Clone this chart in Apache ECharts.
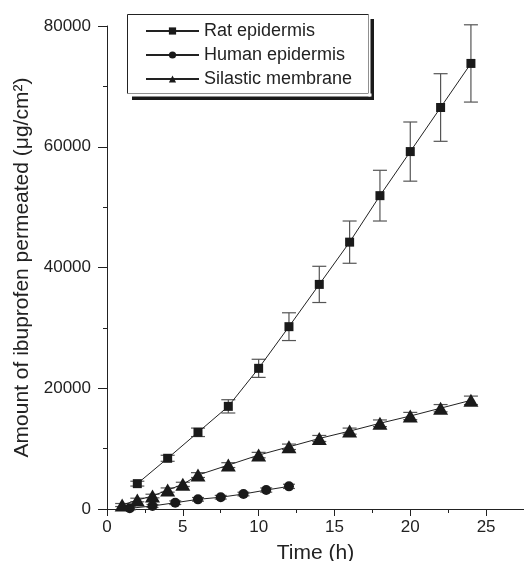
<!DOCTYPE html>
<html>
<head>
<meta charset="utf-8">
<script src="https://cdn.jsdelivr.net/npm/echarts@6/dist/echarts.min.js"></script>
<style>
html,body{margin:0;padding:0;background:#fff;}
#chart{width:524px;height:561px;}
</style>
</head>
<body>
<div id="chart"></div>
<script>
var ratX = [2, 4, 6, 8, 10, 12, 14, 16, 18, 20, 22, 24];
var ratY = [4200, 8400, 12700, 17000, 23300, 30200, 37200, 44200, 51900, 59200, 66500, 73800];
var ratErr = [400, 500, 700, 1100, 1500, 2300, 3000, 3500, 4200, 4900, 5600, 6400];

var humanX = [1.5, 3, 4.5, 6, 7.5, 9, 10.5, 12];
var humanY = [110, 500, 1040, 1600, 1950, 2480, 3140, 3750];
var humanErr = [250, 250, 300, 300, 300, 300, 350, 350];

var silX = [1, 2, 3, 4, 5, 6, 8, 10, 12, 14, 16, 18, 20, 22, 24];
var silY = [660, 1490, 2150, 3140, 4080, 5620, 7270, 8930, 10300, 11680, 12900, 14200, 15400, 16700, 18000];
var silErr = [250, 300, 300, 350, 350, 400, 400, 450, 450, 500, 500, 550, 600, 600, 700];

var xTicks = [0, 5, 10, 15, 20, 25];
var yTicks = [0, 20000, 40000, 60000, 80000];

function pairs(xs, ys) {
	var out = [];
	for (var i = 0; i < xs.length; i++) out.push([xs[i], ys[i]]);
	return out;
}
function errData(xs, ys, es) {
	var out = [];
	for (var i = 0; i < xs.length; i++) out.push([xs[i], ys[i] - es[i], ys[i] + es[i]]);
	return out;
}
function errSeries(data, cap) {
	return {
		type: 'custom',
		silent: true,
		z: 1,
		data: data,
		encode: {x: 0, y: [1, 2]},
		renderItem: function (params, api) {
			var lo = api.coord([api.value(0), api.value(1)]);
			var hi = api.coord([api.value(0), api.value(2)]);
			var st = {stroke: '#555', lineWidth: 1.2};
			return {
				type: 'group',
				children: [
					{type: 'line', shape: {x1: lo[0], y1: lo[1], x2: hi[0], y2: hi[1]}, style: st},
					{type: 'line', shape: {x1: lo[0] - cap, y1: lo[1], x2: lo[0] + cap, y2: lo[1]}, style: st},
					{type: 'line', shape: {x1: hi[0] - cap, y1: hi[1], x2: hi[0] + cap, y2: hi[1]}, style: st}
				]
			};
		}
	};
}
function lineSeries(name, data, symbol, size) {
	return {
		name: name,
		type: 'line',
		data: data,
		symbol: symbol,
		symbolSize: size,
		showAllSymbol: true,
		z: 3,
		lineStyle: {color: '#222', width: 1},
		itemStyle: {color: '#1a1a1a'}
	};
}

var chart = echarts.init(document.getElementById('chart'));
var font = 'Liberation Sans, Arial, sans-serif';
var option = {
	animation: false,
	backgroundColor: '#fff',
	grid: {left: 107, right: 0, top: 26, bottom: 52, outerBoundsMode: 'none', containLabel: false},
	graphic: [
		{type: 'rect', z: 90, shape: {x: 132, y: 19, width: 242, height: 81}, style: {fill: '#1a1a1a'}},
		{type: 'rect', z: 91, shape: {x: 127.5, y: 14.5, width: 241, height: 79}, style: {fill: '#fff', stroke: '#222', lineWidth: 1}},
		{type: 'rect', z: 91, shape: {x: 368.5, y: 14.5, width: 2, height: 82}, style: {fill: '#fff'}},
		{type: 'rect', z: 91, shape: {x: 127.5, y: 93.5, width: 244, height: 3}, style: {fill: '#fff'}}
	],
	legend: {
		orient: 'vertical',
		left: 145,
		top: 21,
		z: 100,
		itemWidth: 53,
		itemHeight: 9,
		itemGap: 4,
		padding: 0,
		textStyle: {fontFamily: font, fontSize: 18, lineHeight: 20, color: '#222'},
		data: ['Rat epidermis', 'Human epidermis', 'Silastic membrane']
	},
	xAxis: {
		type: 'value',
		min: 0,
		max: 27.5,
		interval: 5,
		name: 'Time (h)',
		nameLocation: 'middle',
		nameGap: 34,
		nameTextStyle: {fontFamily: font, fontSize: 21, color: '#222'},
		axisLine: {lineStyle: {color: '#222', width: 1}},
		axisTick: {show: true, inside: false, length: 7, lineStyle: {color: '#222'}},
		minorTick: {show: true, splitNumber: 2, length: 4, lineStyle: {color: '#222'}},
		splitLine: {show: false},
		axisLabel: {
			fontFamily: font, fontSize: 17, color: '#222', margin: 10,
			formatter: function (v) { return xTicks.indexOf(v) >= 0 ? String(v) : ''; }
		}
	},
	yAxis: {
		type: 'value',
		min: 0,
		max: 80000,
		interval: 20000,
		name: 'Amount of ibuprofen permeated (\u03bcg/cm\u00b2)',
		nameLocation: 'middle',
		nameGap: 74,
		nameTextStyle: {fontFamily: font, fontSize: 21, color: '#222'},
		axisLine: {show: true, lineStyle: {color: '#222', width: 1}},
		axisTick: {show: true, inside: false, length: 9, lineStyle: {color: '#222'}},
		minorTick: {show: true, splitNumber: 2, length: 4, lineStyle: {color: '#222'}},
		splitLine: {show: false},
		axisLabel: {
			fontFamily: font, fontSize: 17, color: '#222', margin: 16,
			formatter: function (v) { return yTicks.indexOf(v) >= 0 ? String(v) : ''; }
		}
	},
	series: [
		errSeries(errData(ratX, ratY, ratErr), 7),
		errSeries(errData(humanX, humanY, humanErr), 6),
		errSeries(errData(silX, silY, silErr), 7),
		lineSeries('Rat epidermis', pairs(ratX, ratY), 'rect', 9),
		lineSeries('Human epidermis', pairs(humanX, humanY), 'circle', 10),
		lineSeries('Silastic membrane', pairs(silX, silY), 'triangle', [15, 13])
	]
};
chart.setOption(option);
</script>
</body>
</html>
